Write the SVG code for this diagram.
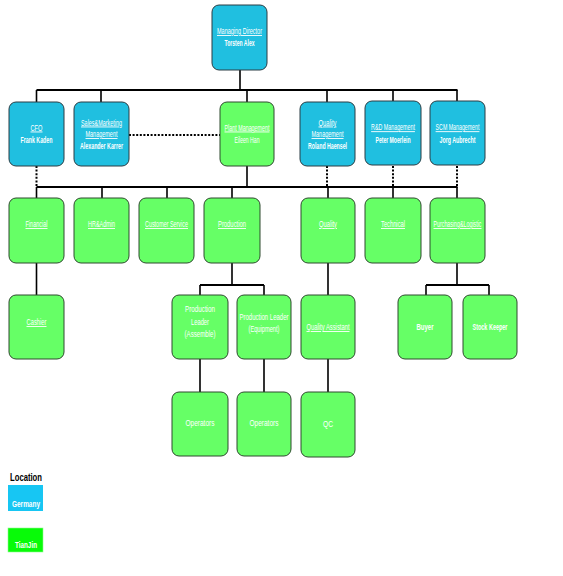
<svg xmlns="http://www.w3.org/2000/svg" width="563" height="576" viewBox="0 0 563 576">
<style>
.bl{fill:#20bfe0;stroke:#2b3d44;stroke-width:1}
.gr{fill:#66ff66;stroke:#2f4a2f;stroke-width:1}
text{font-family:"Liberation Sans Narrow","Liberation Sans",Arial,sans-serif;font-size:9px;fill:#fff;text-anchor:middle}
.u{text-decoration:underline}
.b{font-weight:bold}
.ln{stroke:#000;stroke-width:1.6;fill:none}
.bus{stroke:#000;stroke-width:2.2;fill:none}
.dot{stroke:#000;stroke-width:2;stroke-dasharray:2 1.6;fill:none}
</style>
<rect width="563" height="576" fill="#fff"/>
<g id="connectors">
<path class="ln" d="M240 70V90"/>
<path class="bus" d="M36.5 90H457.5"/>
<path class="ln" d="M36.5 90V102M101 90V102M247 90V102M327 90V102M393 90V102M457 90V102"/>
<path class="dot" d="M129 135H220"/>
<path class="dot" d="M36.5 166V187M327 166V187M393 166V187M457 166V187"/>
<path class="ln" d="M247 166V187"/>
<path class="bus" d="M36.5 187H457.5"/>
<path class="ln" d="M36.5 187V198M102 187V198M167 187V198M232 187V198M328 187V198M393 187V198M457 187V198"/>
<path class="ln" d="M36.5 263V295M328 263V295"/>
<path class="ln" d="M232 263V285M200 295V285M264 295V285"/>
<path class="bus" d="M200 285H264"/>
<path class="ln" d="M457 263V285M426 295V285M489 295V285"/>
<path class="bus" d="M426 285H489"/>
<path class="ln" d="M200 359V392M264 359V392M328 359V392"/>
</g>
<g id="md"><rect class="bl" x="212" y="5" width="55" height="65" rx="7"/>
<text x="239.5" y="34" class="u" textLength="45" lengthAdjust="spacingAndGlyphs">Managing Director</text>
<text x="239.5" y="46" class="b" textLength="30" lengthAdjust="spacingAndGlyphs">Torsten Alex</text></g>
<g id="cfo"><rect class="bl" x="9" y="102" width="55" height="64" rx="7"/>
<text x="36.5" y="130.5" class="u" textLength="12" lengthAdjust="spacingAndGlyphs">CFO</text>
<text x="36.5" y="142.5" class="b" textLength="32" lengthAdjust="spacingAndGlyphs">Frank Kaden</text></g>
<g id="sales"><rect class="bl" x="74" y="102" width="55" height="64" rx="7"/>
<text x="101.5" y="125.5" class="u" textLength="41" lengthAdjust="spacingAndGlyphs">Sales&amp;Marketing</text>
<text x="101.5" y="137" class="u" textLength="32" lengthAdjust="spacingAndGlyphs">Management</text>
<text x="101.5" y="148.5" class="b" textLength="43" lengthAdjust="spacingAndGlyphs">Alexander Karrer</text></g>
<g id="plant"><rect class="gr" x="220" y="102" width="54" height="64" rx="7"/>
<text x="247" y="130.5" class="u" textLength="45" lengthAdjust="spacingAndGlyphs">Plant Management</text>
<text x="247" y="142.5" textLength="25" lengthAdjust="spacingAndGlyphs">Eileen Han</text></g>
<g id="qm"><rect class="bl" x="300" y="102" width="55" height="64" rx="7"/>
<text x="327.5" y="125.5" class="u" textLength="18" lengthAdjust="spacingAndGlyphs">Quality</text>
<text x="327.5" y="137" class="u" textLength="32" lengthAdjust="spacingAndGlyphs">Management</text>
<text x="327.5" y="148.5" class="b" textLength="39" lengthAdjust="spacingAndGlyphs">Roland Haensel</text></g>
<g id="rd"><rect class="bl" x="365" y="101" width="56" height="64" rx="7"/>
<text transform="translate(393 130) scale(0.6 1)" x="0" y="0" class="u" textLength="73" lengthAdjust="spacingAndGlyphs">R&amp;D Management</text>
<text x="393" y="142.5" class="b" textLength="35" lengthAdjust="spacingAndGlyphs">Peter Moerlein</text></g>
<g id="scm"><rect class="bl" x="430" y="101" width="55" height="64" rx="7"/>
<text transform="translate(457.5 130) scale(0.6 1)" x="0" y="0" class="u" textLength="73" lengthAdjust="spacingAndGlyphs">SCM Management</text>
<text x="457.5" y="142.5" class="b" textLength="36" lengthAdjust="spacingAndGlyphs">Jorg Aubrecht</text></g>
<g id="financial"><rect class="gr" x="9" y="198" width="55" height="65" rx="7"/>
<text x="36.5" y="227" class="u" textLength="22" lengthAdjust="spacingAndGlyphs">Financial</text></g>
<g id="hr"><rect class="gr" x="74" y="198" width="55" height="65" rx="7"/>
<text x="101.5" y="227" class="u" textLength="27" lengthAdjust="spacingAndGlyphs">HR&amp;Admin</text></g>
<g id="cs"><rect class="gr" x="139" y="198" width="55" height="65" rx="7"/>
<text x="166.5" y="227" class="u" textLength="43" lengthAdjust="spacingAndGlyphs">Customer Service</text></g>
<g id="production"><rect class="gr" x="204" y="198" width="56" height="65" rx="7"/>
<text x="232" y="227" class="u" textLength="28" lengthAdjust="spacingAndGlyphs">Production</text></g>
<g id="quality"><rect class="gr" x="301" y="198" width="54" height="65" rx="7"/>
<text x="328" y="227" class="u" textLength="18" lengthAdjust="spacingAndGlyphs">Quality</text></g>
<g id="technical"><rect class="gr" x="365" y="198" width="56" height="65" rx="7"/>
<text x="393" y="227" class="u" textLength="24" lengthAdjust="spacingAndGlyphs">Technical</text></g>
<g id="purchasing"><rect class="gr" x="430" y="198" width="55" height="65" rx="7"/>
<text x="457.5" y="227" class="u" textLength="48" lengthAdjust="spacingAndGlyphs">Purchasing&amp;Logistic</text></g>
<g id="cashier"><rect class="gr" x="9" y="295" width="55" height="64" rx="7"/>
<text x="36.5" y="325" class="u" textLength="20" lengthAdjust="spacingAndGlyphs">Cashier</text></g>
<g id="pla"><rect class="gr" x="172" y="295" width="56" height="64" rx="7"/>
<text x="200" y="312" textLength="30" lengthAdjust="spacingAndGlyphs">Production</text>
<text x="200" y="324.5" textLength="18" lengthAdjust="spacingAndGlyphs">Leader</text>
<text x="200" y="337" textLength="31" lengthAdjust="spacingAndGlyphs">(Assemble)</text></g>
<g id="ple"><rect class="gr" x="237" y="295" width="54" height="64" rx="7"/>
<text x="264" y="320" textLength="49" lengthAdjust="spacingAndGlyphs">Production Leader</text>
<text x="264" y="331.5" textLength="31" lengthAdjust="spacingAndGlyphs">(Equipment)</text></g>
<g id="qa"><rect class="gr" x="301" y="295" width="54" height="64" rx="7"/>
<text x="328" y="330" class="u" textLength="43" lengthAdjust="spacingAndGlyphs">Quality Assistant</text></g>
<g id="buyer"><rect class="gr" x="398" y="295" width="54" height="64" rx="7"/>
<text x="425" y="330" class="b" textLength="17" lengthAdjust="spacingAndGlyphs">Buyer</text></g>
<g id="stock"><rect class="gr" x="463" y="295" width="54" height="64" rx="7"/>
<text x="490" y="330" class="b" textLength="35" lengthAdjust="spacingAndGlyphs">Stock Keeper</text></g>
<g id="op1"><rect class="gr" x="172" y="392" width="56" height="64" rx="7"/>
<text x="200" y="426" textLength="29" lengthAdjust="spacingAndGlyphs">Operators</text></g>
<g id="op2"><rect class="gr" x="237" y="392" width="54" height="64" rx="7"/>
<text x="264" y="426" textLength="29" lengthAdjust="spacingAndGlyphs">Operators</text></g>
<g id="qc"><rect class="gr" x="301" y="392" width="54" height="65" rx="7"/>
<text x="328" y="427" textLength="10" lengthAdjust="spacingAndGlyphs">QC</text></g>
<g id="legend">
<text x="26" y="481" class="b" style="fill:#000;font-size:11px" textLength="32" lengthAdjust="spacingAndGlyphs">Location</text>
<rect x="8" y="485" width="35" height="26" fill="#17c6f3"/>
<text x="26" y="506.5" class="b" textLength="28" lengthAdjust="spacingAndGlyphs">Germany</text>
<rect x="8" y="528" width="35" height="24" fill="#08fb08" stroke="#8dfc8d" stroke-width="0.6"/>
<text x="26" y="547.5" class="b" textLength="22" lengthAdjust="spacingAndGlyphs">TianJin</text>
</g>
</svg>
